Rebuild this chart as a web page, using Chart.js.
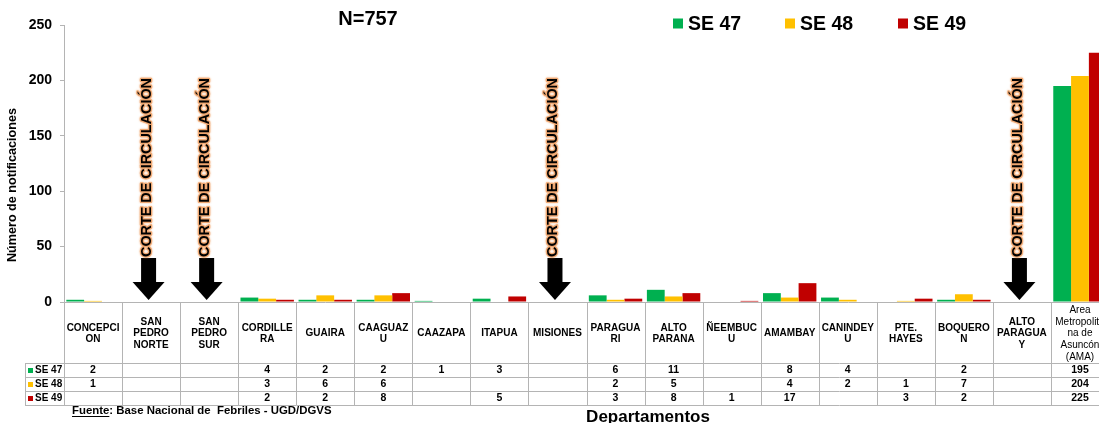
<!DOCTYPE html>
<html><head><meta charset="utf-8">
<script src="https://cdn.jsdelivr.net/npm/chart.js@4/dist/chart.umd.min.js"></script>
<style>
html,body{margin:0;padding:0;overflow:hidden;background:#fff;width:1099px;height:423px}
#wrap{position:absolute;left:0;top:0;width:1112px;height:423px}
</style></head>
<body><div id="wrap"><canvas id="c" width="1112" height="423"></canvas></div>
<script>
const categories = [
  ["CONCEPCI","ON"], ["SAN","PEDRO","NORTE"], ["SAN","PEDRO","SUR"], ["CORDILLE","RA"],
  ["GUAIRA"], ["CAAGUAZ","U"], ["CAAZAPA"], ["ITAPUA"], ["MISIONES"], ["PARAGUA","RI"],
  ["ALTO","PARANA"], ["ÑEEMBUC","U"], ["AMAMBAY"], ["CANINDEY","U"], ["PTE.","HAYES"],
  ["BOQUERO","N"], ["ALTO","PARAGUA","Y"], ["Area","Metropolita","na de","Asuncón","(AMA)"]
];
const seriesNames = ["SE 47","SE 48","SE 49"];
const se47 = [2,null,null,4,2,2,1,3,null,6,11,null,8,4,null,2,null,195];
const se48 = [1,null,null,3,6,6,null,null,null,2,5,null,4,2,1,7,null,204];
const se49 = [null,null,null,2,2,8,null,5,null,3,8,1,17,null,3,2,null,225];
const yTicks = [0,50,100,150,200,250];
const cutIndices = [1,2,8,16];
const cutLabel = "CORTE DE CIRCULACIÓN";
const titleText = "N=757";
const yTitle = "Número de notificaciones";
const xTitle = "Departamentos";
const sourceLabel = "Fuente";
const sourceRest = ": Base Nacional de  Febriles - UGD/DGVS";

const colors = ["#00B050","#FFC000","#C00000"];
const FF = '"Liberation Sans", Arial, sans-serif';
const seriesData = [se47, se48, se49];

const extras = {
  id: 'extras',
  afterDraw(chart){
    const ctx = chart.ctx, xs = chart.scales.x, ys = chart.scales.y, ca = chart.chartArea;
    const n = categories.length, cw = (ca.right - ca.left) / n;
    const top = ca.bottom, hdrB = top + 61, rowH = 14;
    const rows = [hdrB, hdrB + rowH, hdrB + 2*rowH, hdrB + 3*rowH];
    ctx.save();
    // table lines
    ctx.strokeStyle = '#b4b4b4'; ctx.lineWidth = 1;
    ctx.beginPath();
    for (let i = 0; i <= n; i++) {
      const x = Math.round(ca.left + i*cw) + 0.5;
      ctx.moveTo(x, top); ctx.lineTo(x, rows[3]);
    }
    ctx.moveTo(25.5, rows[0]); ctx.lineTo(25.5, rows[3]);
    rows.forEach(r => { const y = Math.round(r) + 0.5; ctx.moveTo(25, y); ctx.lineTo(ca.right + 2, y); });
    ctx.stroke();
    // header labels
    ctx.fillStyle = '#000'; ctx.textAlign = 'center'; ctx.textBaseline = 'middle';
    const midH = (top + hdrB) / 2 + 1;
    categories.forEach((lines, i) => {
      const cx = xs.getPixelForValue(i);
      const last = i === n - 1;
      const lh = last ? 11.7 : 11.3;
      ctx.font = (last ? '' : 'bold ') + '10px ' + FF;
      const y0 = midH - (lines.length - 1) * lh / 2;
      lines.forEach((t, k) => ctx.fillText(t, cx, y0 + k*lh));
    });
    // rows
    seriesData.forEach((arr, s) => {
      const cy = rows[s] + rowH/2 + 0.5;
      ctx.fillStyle = colors[s];
      ctx.fillRect(28, cy - 2.5, 5, 5);
      ctx.fillStyle = '#000'; ctx.textAlign = 'left'; ctx.font = 'bold 10px ' + FF;
      ctx.fillText(seriesNames[s], 35, cy);
      ctx.textAlign = 'center'; ctx.font = 'bold 10.5px ' + FF;
      arr.forEach((v, i) => { if (v !== null) ctx.fillText(String(v), xs.getPixelForValue(i), cy); });
    });
    // cut arrows
    cutIndices.forEach(i => {
      const cx = xs.getPixelForValue(i) - 2.5;
      const tip = ys.getPixelForValue(0) - 2;
      ctx.fillStyle = '#000';
      ctx.fillRect(cx - 7.5, tip - 42, 15, 25);
      ctx.beginPath(); ctx.moveTo(cx - 16, tip - 18); ctx.lineTo(cx + 16, tip - 18); ctx.lineTo(cx, tip); ctx.closePath(); ctx.fill();
      ctx.save();
      ctx.translate(cx - 1.5, tip - 43);
      ctx.rotate(-Math.PI/2);
      ctx.font = 'bold 14px ' + FF;
      const w = ctx.measureText(cutLabel).width;
      ctx.scale(179 / w, 1);
      ctx.textAlign = 'left'; ctx.textBaseline = 'middle';
      ctx.lineJoin = 'round';
      ctx.shadowColor = 'rgba(240,160,100,0.9)'; ctx.shadowBlur = 2;
      ctx.strokeStyle = 'rgba(238,165,110,0.9)'; ctx.lineWidth = 2.4;
      ctx.strokeText(cutLabel, 0, 0);
      ctx.shadowBlur = 0; ctx.shadowColor = 'transparent';
      ctx.fillStyle = '#000';
      ctx.fillText(cutLabel, 0, 0);
      ctx.restore();
    });
    // title
    ctx.fillStyle = '#000'; ctx.textAlign = 'center'; ctx.textBaseline = 'middle';
    ctx.font = 'bold 20px ' + FF;
    ctx.fillText(titleText, 368, 19);
    // legend
    const lx = [673, 785, 898];
    seriesNames.forEach((nm, s) => {
      ctx.fillStyle = colors[s];
      ctx.fillRect(lx[s], 18.5, 10, 10);
      ctx.fillStyle = '#000'; ctx.textAlign = 'left'; ctx.font = 'bold 19.5px ' + FF;
      ctx.fillText(nm, lx[s] + 15, 24.5);
    });
    // y title
    ctx.save();
    ctx.translate(13, 185); ctx.rotate(-Math.PI/2);
    ctx.font = 'bold 12.6px ' + FF; ctx.textAlign = 'center';
    ctx.fillText(yTitle, 0, 0);
    ctx.restore();
    // x title
    ctx.font = 'bold 17px ' + FF; ctx.textAlign = 'center';
    ctx.fillText(xTitle, 648, 417);
    // source
    ctx.font = 'bold 11.4px ' + FF; ctx.textAlign = 'left';
    ctx.fillText(sourceLabel + sourceRest, 72, 411);
    const fw = ctx.measureText(sourceLabel).width;
    ctx.fillRect(72, 416, fw, 1);
    ctx.restore();
  }
};

new Chart(document.getElementById('c'), {
  type: 'bar',
  data: {
    labels: categories,
    datasets: seriesData.map((d, s) => ({
      label: seriesNames[s], data: d, backgroundColor: colors[s], borderWidth: 0,
      categoryPercentage: 0.92, barPercentage: 1.0
    }))
  },
  options: {
    responsive: false, animation: false, devicePixelRatio: 1,
    layout: { padding: { top: 25, right: 3, bottom: 0, left: 0 } },
    plugins: { legend: { display: false }, tooltip: { enabled: false }, title: { display: false } },
    scales: {
      x: {
        ticks: { display: false },
        grid: { display: false },
        border: { display: true, color: '#b4b4b4' },
        afterFit: s => { s.height = 121; }
      },
      y: {
        min: 0, max: 250,
        afterBuildTicks: s => { s.ticks = yTicks.map(v => ({ value: v })); },
        ticks: { color: '#000', font: { family: FF, size: 14, weight: 'bold' }, padding: 8 },
        grid: { drawOnChartArea: false, drawTicks: true, tickLength: 4, color: '#b4b4b4' },
        border: { display: true, color: '#b4b4b4' },
        afterFit: s => { s.width = 64; }
      }
    }
  },
  plugins: [extras]
});
</script>
</body></html>
